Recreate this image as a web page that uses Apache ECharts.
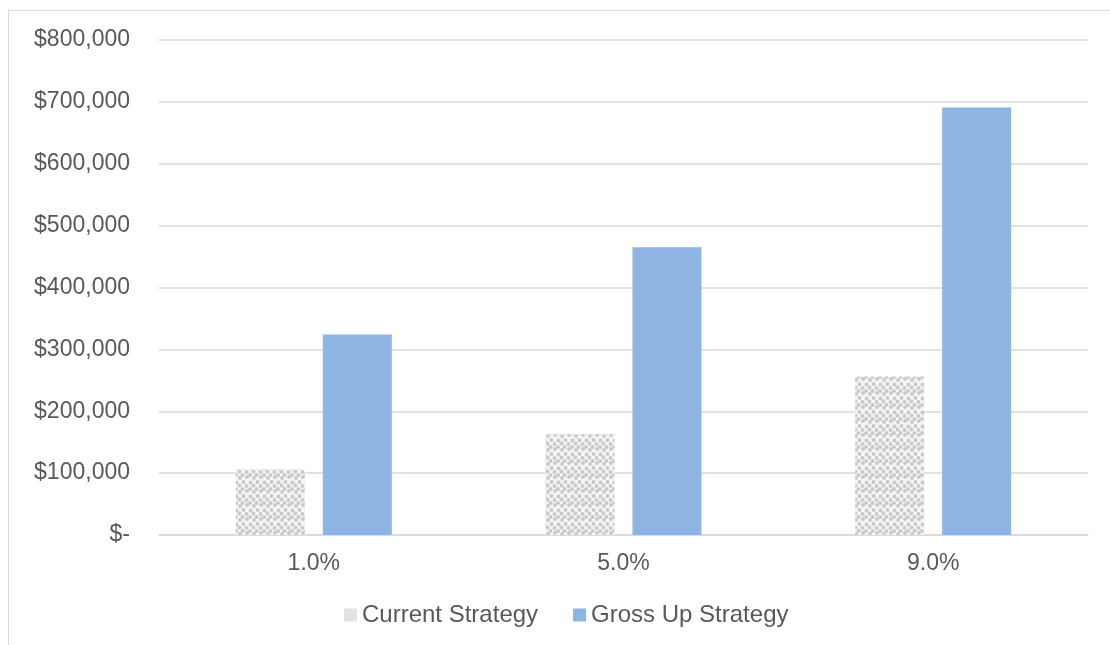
<!DOCTYPE html>
<html><head><meta charset="utf-8">
<script src="https://cdn.jsdelivr.net/npm/echarts@6/dist/echarts.min.js"></script>
<style>html,body{margin:0;padding:0;background:#fff;}#c{width:1110px;height:645px;}
#frame{position:absolute;left:8px;top:10px;width:1110px;height:645px;border:1px solid #d9d9d9;box-sizing:border-box;pointer-events:none;}</style>
</head><body><div id="c"></div><div id="frame"></div>
<script>
const categories = ['1.0%', '5.0%', '9.0%'];
const currentStrategy = [106000, 163000, 256000];
const grossUpStrategy = [324000, 465000, 691000];
const yTicks = [0, 100000, 200000, 300000, 400000, 500000, 600000, 700000, 800000];

function makePattern() {
  const c = document.createElement('canvas');
  c.width = 14; c.height = 14;
  const g = c.getContext('2d');
  g.fillStyle = '#f4f4f4'; g.fillRect(0, 0, 14, 14);
  g.fillStyle = '#c9c9c9';
  const dots = [[2,2],[9,1],[5.5,6],[12.5,6.5],[1.5,9.5],[8.5,10],[4.5,13],[12,13]];
  dots.forEach(([x, y]) => {
    [[0,0],[14,0],[-14,0],[0,14],[0,-14]].forEach(([dx, dy]) => {
      g.beginPath(); g.arc(x + dx, y + dy, 1.9, 0, Math.PI * 2); g.fill();
    });
  });
  return c;
}
const pat = { image: makePattern(), repeat: 'repeat' };

const chart = echarts.init(document.getElementById('c'));
const fmt = v => v === 0 ? '$-' : '$' + v.toLocaleString('en-US');
const font = 'Liberation Sans, Arial, sans-serif';
chart.setOption({
  animation: false,
  grid: { left: 159, right: 22, top: 40, bottom: 110, containLabel: false },
  legend: {
    bottom: 13, left: 339, itemWidth: 13, itemHeight: 13, itemGap: 35,
    textStyle: { color: '#595959', fontSize: 24, fontFamily: font },
    data: [
      { name: 'Current Strategy', icon: 'rect', itemStyle: { color: '#e2e2e2' } },
      { name: 'Gross Up Strategy', icon: 'rect' }
    ]
  },
  xAxis: {
    type: 'category', data: categories,
    axisLine: { lineStyle: { color: '#d9d9d9', width: 1.5 } },
    axisTick: { show: false },
    axisLabel: { color: '#595959', fontSize: 23, margin: 17, fontFamily: font }
  },
  yAxis: {
    type: 'value', min: 0, max: 800000, interval: 100000,
    axisLine: { show: false }, axisTick: { show: false },
    splitLine: { lineStyle: { color: '#d9d9d9', width: 1.5 } },
    axisLabel: { color: '#595959', fontSize: 23, margin: 29, formatter: fmt, fontFamily: font }
  },
  series: [
    { name: 'Current Strategy', type: 'bar', data: currentStrategy, barWidth: 69, barGap: '26%',
      itemStyle: { color: pat } },
    { name: 'Gross Up Strategy', type: 'bar', data: grossUpStrategy, barWidth: 69,
      itemStyle: { color: '#8eb4e3' } }
  ]
});
</script></body></html>
